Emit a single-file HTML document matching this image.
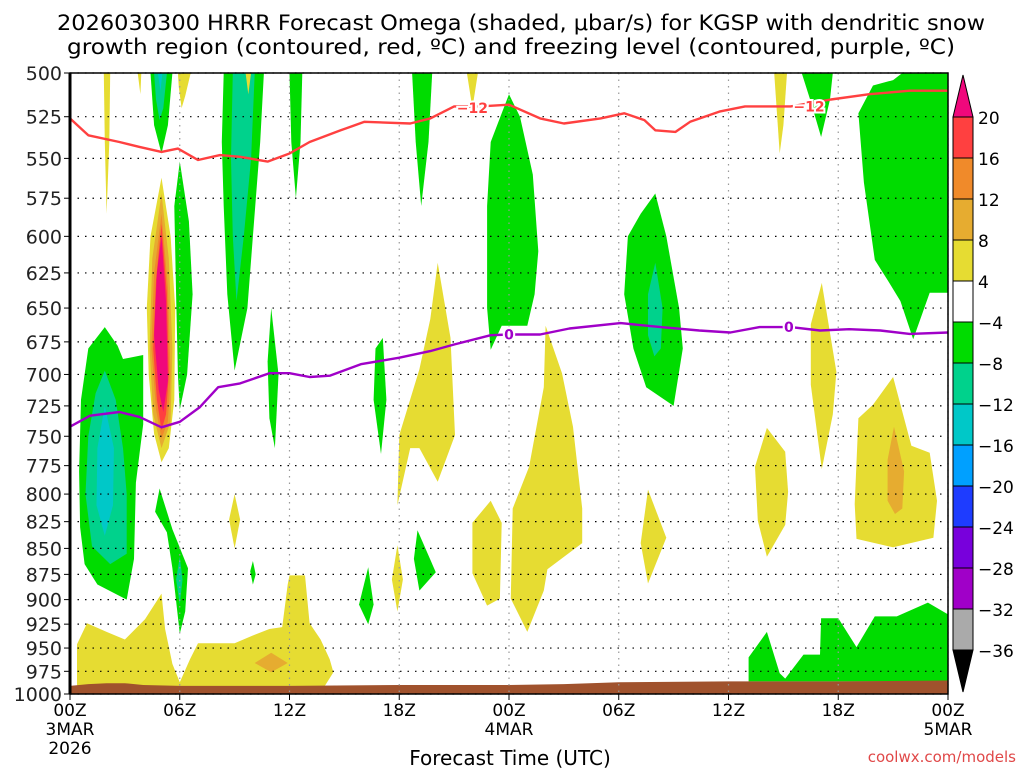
<!DOCTYPE html>
<html><head><meta charset="utf-8"><style>
html,body{margin:0;padding:0;background:#fff;}
svg{display:block;font-family:"DejaVu Sans","Liberation Sans",sans-serif;}
</style></head><body>
<svg id="chart" width="1024" height="768" viewBox="0 0 1024 768" xmlns="http://www.w3.org/2000/svg">
<rect width="1024" height="768" fill="#fff"/>
<g>
<text x="521" y="30" font-size="21" text-anchor="middle" textLength="928" lengthAdjust="spacingAndGlyphs">2026030300 HRRR Forecast Omega (shaded, μbar/s) for KGSP with dendritic snow</text>
<text x="511" y="54" font-size="21" text-anchor="middle" textLength="888" lengthAdjust="spacingAndGlyphs">growth region (contoured, red, ºC) and freezing level (contoured, purple, ºC)</text>
</g>
<g id="fills"></g>
<g id="terrain"></g>
<g id="grid"></g>
<g id="lines"></g>
<g id="axes"></g>
<g id="cbar"></g>
<text x="510" y="765" font-size="20" text-anchor="middle">Forecast Time (UTC)</text>
<text x="1016" y="762" font-size="15" text-anchor="end" fill="#e04848">coolwx.com/models</text>
</svg>
<script>
// ---- data ----
const pressureTicks = [500,525,550,575,600,625,650,675,700,725,750,775,800,825,850,875,900,925,950,975,1000];
const timeTickHours = [0,6,12,18,24,30,36,42,48];
const timeTickLabels = ["00Z","06Z","12Z","18Z","00Z","06Z","12Z","18Z","00Z"];
const timeTickSub1 = ["3MAR","","","","4MAR","","","","5MAR"];
const timeTickSub2 = ["2026","","","","","","","",""];
const cbarLevels = ["20","16","12","8","4","−4","−8","−12","−16","−20","−24","−28","−32","−36"];
const cbarColors = ["#ff4040","#f08a2a","#e6ac30","#e6dc32","#ffffff","#00dc00","#00d28c","#00c8c8","#00a0ff","#1e3cff","#7800dc","#a000c8","#aaaaaa"];

const dgzHours = [0,1,2.7,3.8,5,5.9,7,8.2,9.3,10.8,12,13.1,14.8,16.1,18.6,19.7,21,22.4,24,25.7,27,29,30.3,31.4,32,33.1,33.9,35.5,36.9,39.4,41.6,43.7,45.9,48];
const dgzP = [526,536,540,543,546,544,551,548,549,552,547,540,533,528,529,526,519,519,518,526,529,526,523,527,533,534,528,522,519,519,515,512,510,510];
const frzHours = [0,1.1,2.7,3.8,5,6,7.1,8.1,9.3,10.9,12,13.1,14.2,15.9,18,19.7,21,23,24,25.7,27.3,30.1,32.3,34.4,36.1,37.7,39.4,41,42.6,44.3,45.9,48];
const frzP = [742,733,730,734,742.5,738,726,710,707,699,699,702,701,692,687,682,677,670,669.5,669.5,665,661,664,666.5,668,664,664,666.5,665.5,666.5,669,668];
const sfcHours = [0,1,2,3,4,6,12,18,24,27,30,36,42,48];
const sfcP = [991,989,988,988,990,991,991,990,990,989,987,986,986,985];

// polygons [hour, hPa]
const G="#00dc00",T="#00d28c",C="#00c8c8",Y="#e6dc32",O="#e6ac30",R="#f08a2a",RD="#ff4040",M="#f0087c";
const shapes = [
 [G,[[0.5,780],[0.6,720],[1.0,680],[1.9,664],[2.6,678],[2.9,688],[4.0,685],[4.0,740],[3.6,790],[3.5,860],[3.1,900],[1.5,885],[0.8,865],[0.55,830]]],
 [T,[[1.9,697],[2.5,720],[2.9,760],[3.1,800],[3.1,855],[2.2,865],[1.2,848],[0.85,800],[1.0,750],[1.4,715]]],
 [C,[[1.9,725],[2.4,760],[2.35,810],[1.9,838],[1.45,810],[1.5,760]]],
 [Y,[[5.0,562],[5.5,600],[5.75,650],[5.7,720],[5.4,760],[5.0,772],[4.6,748],[4.3,700],[4.2,650],[4.4,600]]],
 [O,[[5.0,572],[5.4,615],[5.6,680],[5.5,738],[5.0,760],[4.55,732],[4.35,680],[4.5,615]]],
 [R,[[5.0,585],[5.35,635],[5.5,700],[5.35,738],[5.0,752],[4.7,728],[4.45,680],[4.6,625]]],
 [RD,[[5.0,592],[5.3,640],[5.4,700],[5.25,732],[5.0,745],[4.75,720],[4.55,680],[4.7,630]]],
 [M,[[5.0,600],[5.25,645],[5.35,705],[5.1,730],[4.85,712],[4.6,670],[4.75,625]]],
 [G,[[6.0,552],[6.5,590],[6.7,640],[6.4,700],[6.0,728],[5.9,700],[5.8,640],[5.7,580]]],
 [G,[[8.4,500],[10.6,500],[10.4,540],[10.0,600],[9.7,650],[9.0,697],[8.6,640],[8.4,580],[8.3,540]]],
 [T,[[8.9,500],[10.1,500],[9.9,550],[9.5,600],[9.1,645],[8.9,600],[8.8,550]]],
 [Y,[[9.6,500],[9.9,500],[9.75,512]]],
 [G,[[4.4,500],[5.6,500],[5.35,530],[5.0,547],[4.6,530]]],
 [T,[[4.6,500],[5.3,500],[5.1,520],[4.9,527],[4.7,515]]],
 [C,[[4.8,500],[5.05,500],[4.95,510]]],
 [Y,[[3.7,500],[3.9,500],[3.85,512]]],
 [Y,[[1.85,500],[2.2,500],[2.15,540],[2.0,585],[1.9,540]]],
 [Y,[[5.9,500],[6.6,500],[6.3,513],[6.1,520],[5.95,508]]],
 [G,[[11.0,650],[11.4,700],[11.2,760],[10.9,735],[10.8,690]]],
 [G,[[16.7,680],[17.1,672],[17.3,720],[17.0,765],[16.6,720]]],
 [G,[[12.0,500],[12.7,500],[12.6,540],[12.35,575],[12.1,540]]],
 [G,[[18.7,500],[19.8,500],[19.6,540],[19.2,580],[18.9,540]]],
 [Y,[[21.7,500],[22.3,500],[22.0,520]]],
 [G,[[22.8,580],[23.0,540],[24.0,512],[24.6,525],[25.3,560],[25.6,610],[25.4,640],[25.0,663],[23.6,663],[23.0,681],[22.8,650]]],
 [G,[[32.0,572],[32.6,600],[33.3,650],[33.5,680],[33.0,725],[31.5,710],[30.8,680],[30.3,640],[30.5,600],[31.2,585]]],
 [T,[[32.0,618],[32.4,650],[32.3,680],[31.95,686],[31.6,670],[31.6,640]]],
 [Y,[[20.1,618],[20.8,672],[21.05,749],[20.1,789],[19.1,760],[18.6,760],[17.9,810],[18.0,749],[19.1,696],[19.7,658]]],
 [Y,[[26.0,663],[26.9,699],[27.5,742],[28.0,813],[28.0,845],[26.1,870],[25.9,891],[25.0,933],[24.1,899],[24.2,813],[25.1,776],[25.9,710]]],
 [Y,[[23.0,806],[23.6,826],[23.5,899],[22.8,906],[22.0,874],[22.0,826]]],
 [G,[[19.0,833],[20.0,873],[19.1,891],[18.8,860]]],
 [Y,[[17.9,847],[18.2,880],[17.9,912],[17.6,880]]],
 [Y,[[31.6,796],[32.6,840],[31.6,884],[31.2,845]]],
 [Y,[[9.0,800],[9.3,823],[9.0,850],[8.7,823]]],
 [G,[[10.0,862],[10.15,875],[10.0,885],[9.85,872]]],
 [G,[[16.3,868],[16.6,905],[16.3,925],[15.8,905]]],
 [G,[[4.9,795],[5.6,832],[6.45,869],[6.3,912],[6.0,935],[5.6,869],[5.3,835],[4.65,816]]],
 [T,[[6.0,858],[6.15,880],[6.0,905],[5.8,880]]],
 [Y,[[0.38,992],[0.38,946],[0.93,924],[2.0,933],[3.0,941],[4.1,920],[5.0,894],[5.2,930],[5.6,967],[6.0,987],[6.56,962],[7.0,945],[9.0,945],[10.1,936],[10.9,930],[11.6,928],[11.9,885],[12.0,876],[12.85,876],[13.1,924],[13.7,941],[14.2,962],[14.4,976],[13.9,992]]],
 [O,[[10.1,966],[11.0,955],[11.9,966],[11.0,976]]],
 [G,[[45.5,500],[48,500],[48,639],[47.0,639],[46.1,673],[45.4,645],[44.7,630],[44.0,616],[43.4,565],[43.1,523],[43.9,507],[45.0,504]]],
 [G,[[40.0,500],[41.7,500],[41.55,515],[41.06,537],[40.46,515]]],
 [Y,[[38.5,500],[39.2,500],[39.0,530],[38.8,547]]],
 [Y,[[41.1,632],[41.9,698],[41.7,732],[41.1,778],[40.5,708],[40.5,662]]],
 [Y,[[38.1,743],[39.1,763],[39.26,798],[39.1,828],[38.1,858],[37.6,824],[37.45,776]]],
 [Y,[[45.0,702],[46.0,758],[47.0,764],[47.4,806],[47.2,840],[45.0,849],[43.0,841],[42.9,809],[43.1,735],[43.9,724]]],
 [O,[[45.05,742],[45.6,780],[45.5,813],[45.1,818],[44.7,806],[44.7,770]]],
 [G,[[37.1,960],[38.1,933],[38.8,977],[39.1,983],[40.1,957],[41.0,957],[41.06,919],[42.0,919],[43.0,949],[44.0,917],[45.2,917],[46.9,903],[48,915],[48,986],[37.1,986]]]
];

// ---- axes ----
const X0=70,X1=948,Y0=73,Y1=694;
const xs=h=>X0+h*(X1-X0)/48;
const ys=p=>Y0+Math.log2(p/500)*(Y1-Y0);
const NS="http://www.w3.org/2000/svg";
function mk(tag,parent,attrs){const e=document.createElementNS(NS,tag);for(const k in attrs)e.setAttribute(k,attrs[k]);parent.appendChild(e);return e;}

const fills=document.getElementById('fills');
shapes.forEach((s,i)=>{
  const pg=mk('polygon',fills,{points:s[1].map(q=>xs(q[0]).toFixed(1)+','+ys(q[1]).toFixed(1)).join(' '),fill:s[0]});
  
  
});

// terrain
const ter=document.getElementById('terrain');
let tp='M'+xs(0)+','+ys(1000);
sfcHours.forEach((h,i)=>{tp+=' L'+xs(h).toFixed(1)+','+ys(sfcP[i]).toFixed(1);});
tp+=' L'+xs(48)+','+ys(1000)+' Z';
const tpath=mk('path',ter,{d:tp,fill:'#a0522d'});



// grid
const grid=document.getElementById('grid');
pressureTicks.forEach(p=>{
  const l=mk('line',grid,{x1:X0,x2:X1,y1:ys(p),y2:ys(p),stroke:'#000','stroke-width':1.2,'stroke-dasharray':'1.5,6'});
  
  
});
timeTickHours.forEach(h=>{
  const l=mk('line',grid,{x1:xs(h),x2:xs(h),y1:Y0,y2:Y1,stroke:'#999','stroke-width':1.2,'stroke-dasharray':'1.5,5'});
  
  
});

// contour lines
const lines=document.getElementById('lines');
function line(hs,ps,col,name){
  const pl=mk('polyline',lines,{points:hs.map((h,i)=>xs(h).toFixed(1)+','+ys(ps[i]).toFixed(1)).join(' '),fill:'none',stroke:col,'stroke-width':2.4,'stroke-linejoin':'round'});
  
  
}
line(dgzHours,dgzP,'#ff4040','dgz-line');
line(frzHours,frzP,'#a000c8','freezing-line');
function lab(h,p,txt,col,name){
  const t=mk('text',lines,{x:xs(h),y:ys(p)+5,'font-size':14,'font-weight':'bold','text-anchor':'middle',fill:col,stroke:'#fff','stroke-width':4,'paint-order':'stroke'});
  t.textContent=txt;
  
  
}
lab(22,520,'−12','#ff4040','dgz-label');
lab(40.4,519,'−12','#ff4040','dgz-label');
lab(24,669.5,'0','#a000c8','freezing-label');
lab(39.3,664,'0','#a000c8','freezing-label');

// axes
const ax=document.getElementById('axes');
const frame=mk('rect',ax,{x:X0,y:Y0,width:X1-X0,height:Y1-Y0,fill:'none',stroke:'#000','stroke-width':1.5});


mk('line',ax,{x1:X0,x2:X0,y1:Y0,y2:Y1,stroke:'#000','stroke-width':3});
pressureTicks.forEach(p=>{
  mk('line',ax,{x1:X0-6,x2:X0,y1:ys(p),y2:ys(p),stroke:'#000','stroke-width':1});
  const t=mk('text',ax,{x:X0-8,y:ys(p)+7,'font-size':19,'text-anchor':'end',fill:'#222'});
  t.textContent=p;
  
  
});
timeTickHours.forEach((h,i)=>{
  mk('line',ax,{x1:xs(h),x2:xs(h),y1:Y1,y2:Y1+6,stroke:'#000','stroke-width':1});
  [[timeTickLabels[i],716],[timeTickSub1[i],735],[timeTickSub2[i],754]].forEach(q=>{
    if(!q[0])return;
    const t=mk('text',ax,{x:xs(h),y:q[1],'font-size':17,'text-anchor':'middle'});
    t.textContent=q[0];
    
    
  });
});

// colorbar
const cb=document.getElementById('cbar');
const CX=953,CW=20,CT=117,CS=41;
const tri1=mk('polygon',cb,{points:`${CX},${CT} ${CX+CW},${CT} ${CX+CW/2},${CT-42}`,fill:'#f0087c',stroke:'#000','stroke-width':1});


cbarColors.forEach((c,i)=>{
  const r=mk('rect',cb,{x:CX,y:CT+i*CS,width:CW,height:CS,fill:c,stroke:'#000','stroke-width':1});
  
  
});
const yb=CT+cbarColors.length*CS;
const tri2=mk('polygon',cb,{points:`${CX},${yb} ${CX+CW},${yb} ${CX+CW/2},${yb+42}`,fill:'#000',stroke:'#000','stroke-width':1});


cbarLevels.forEach((l,i)=>{
  const t=mk('text',cb,{x:978,y:CT+i*CS+7,'font-size':17});
  t.textContent=l;
  
  
});
</script>
</body></html>
